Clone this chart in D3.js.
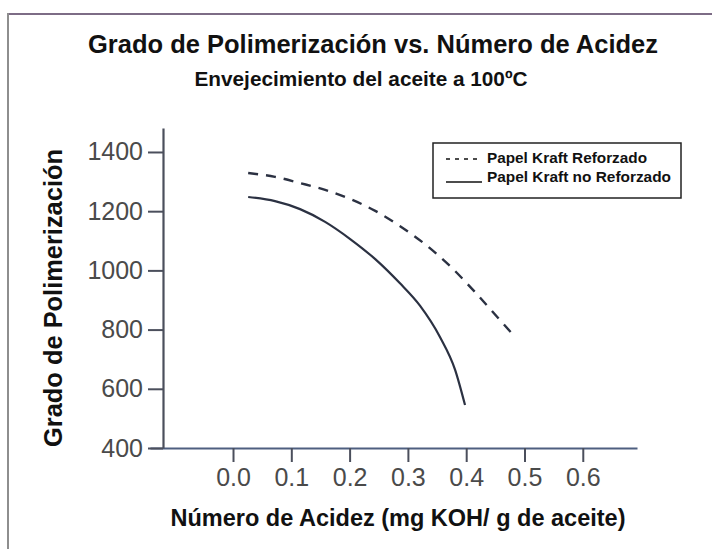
<!DOCTYPE html>
<html>
<head>
<meta charset="utf-8">
<script src="https://cdn.jsdelivr.net/npm/d3@7"></script>
<style>
  html, body { margin: 0; padding: 0; background: #fff; }
  svg { display: block; font-family: "Liberation Sans", Arial, sans-serif; }
</style>
</head>
<body>
<svg id="chart" width="712" height="549"></svg>
<script>
// ---- data ----
const titleText = "Grado de Polimerización vs. Número de Acidez";
const subtitleText = "Envejecimiento del aceite a 100ºC";
const xTitle = "Número de Acidez (mg KOH/ g de aceite)";
const yTitle = "Grado de Polimerización";
const xTicks = [0.0, 0.1, 0.2, 0.3, 0.4, 0.5, 0.6];
const yTicks = [400, 600, 800, 1000, 1200, 1400];
const seriesNames = ["Papel Kraft Reforzado", "Papel Kraft no Reforzado"];
const reforzadoX = [0.026, 0.072, 0.115, 0.158, 0.201, 0.244, 0.286, 0.329, 0.372, 0.415, 0.458, 0.484];
const reforzadoY = [1329, 1316, 1295, 1272, 1241, 1201, 1150, 1089, 1015, 927, 832, 775];
const noReforzadoX = [0.026, 0.072, 0.115, 0.158, 0.201, 0.244, 0.286, 0.321, 0.355, 0.381, 0.398];
const noReforzadoY = [1248, 1234, 1207, 1164, 1106, 1038, 957, 880, 775, 664, 545];

// ---- layout ----
const svg = d3.select("#chart");
const W = 712, H = 549;
const x = d3.scaleLinear().domain([-0.1424, 0.6930]).range([150, 637]);
const y = d3.scaleLinear().domain([400, 1481]).range([448, 128]);
const yAxisX = 163;
const axisColor = "#4b4f5c";
const tickTextColor = "#4a4a4a";
const lineColor = "#2b3142";

// frame
svg.append("line").attr("x1", 8).attr("y1", 14).attr("x2", W).attr("y2", 14)
  .attr("stroke", "#7d6c86").attr("stroke-width", 2);
svg.append("line").attr("x1", 8).attr("y1", 13).attr("x2", 8).attr("y2", H)
  .attr("stroke", "#8e8e8e").attr("stroke-width", 2);

// titles
svg.append("text").attr("x", 373).attr("y", 53).attr("text-anchor", "middle")
  .attr("font-size", 25).attr("font-weight", "bold").attr("fill", "#111")
  .attr("textLength", 570).attr("lengthAdjust", "spacingAndGlyphs").text(titleText);
svg.append("text").attr("x", 361).attr("y", 86).attr("text-anchor", "middle")
  .attr("font-size", 20).attr("font-weight", "bold").attr("fill", "#111")
  .attr("textLength", 333).attr("lengthAdjust", "spacingAndGlyphs").text(subtitleText);

// x axis
const xAxis = d3.axisBottom(x).tickValues(xTicks).tickFormat(d3.format(".1f"))
  .tickSizeOuter(0).tickSizeInner(14).tickPadding(6);
const gx = svg.append("g").attr("transform", "translate(0,448)").call(xAxis);
gx.select(".domain").attr("stroke", "#4e5f80").attr("stroke-width", 2.2);
gx.selectAll(".tick line").attr("stroke", axisColor).attr("stroke-width", 2);
gx.selectAll(".tick text").attr("font-size", 25).attr("fill", tickTextColor)
  .attr("font-family", "Liberation Sans, Arial, sans-serif");

// y axis
const yAxis = d3.axisLeft(y).tickValues(yTicks).tickFormat(d3.format("d"))
  .tickSizeOuter(0).tickSizeInner(15).tickPadding(5);
const gy = svg.append("g").attr("transform", `translate(${yAxisX},0)`).call(yAxis);
gy.select(".domain").attr("stroke", axisColor).attr("stroke-width", 2.2);
gy.selectAll(".tick line").attr("stroke", axisColor).attr("stroke-width", 2);
gy.selectAll(".tick text").attr("font-size", 25).attr("fill", tickTextColor)
  .attr("font-family", "Liberation Sans, Arial, sans-serif");

// axis titles
svg.append("text").attr("x", 398).attr("y", 526).attr("text-anchor", "middle")
  .attr("font-size", 23).attr("font-weight", "bold").attr("fill", "#111")
  .attr("textLength", 455).attr("lengthAdjust", "spacingAndGlyphs").text(xTitle);
svg.append("text").attr("transform", "translate(62,298) rotate(-90)")
  .attr("text-anchor", "middle")
  .attr("font-size", 25).attr("font-weight", "bold").attr("fill", "#111")
  .attr("textLength", 298).attr("lengthAdjust", "spacingAndGlyphs").text(yTitle);

// lines
const line = d3.line().x(d => x(d[0])).y(d => y(d[1])).curve(d3.curveMonotoneX);
const dataR = reforzadoX.map((v, i) => [v, reforzadoY[i]]);
const dataN = noReforzadoX.map((v, i) => [v, noReforzadoY[i]]);
svg.append("path").datum(dataR).attr("d", line).attr("fill", "none")
  .attr("stroke", lineColor).attr("stroke-width", 2.4)
  .attr("stroke-dasharray", "10,8").attr("stroke-linecap", "butt");
svg.append("path").datum(dataN).attr("d", line).attr("fill", "none")
  .attr("stroke", lineColor).attr("stroke-width", 2.2);

// legend
const lg = svg.append("g");
lg.append("rect").attr("x", 433).attr("y", 143).attr("width", 248).attr("height", 55)
  .attr("fill", "#fff").attr("stroke", "#222").attr("stroke-width", 1.5);
lg.append("line").attr("x1", 446).attr("x2", 477).attr("y1", 159).attr("y2", 159)
  .attr("stroke", "#111").attr("stroke-width", 1.6).attr("stroke-dasharray", "4,5");
lg.append("line").attr("x1", 446).attr("x2", 482).attr("y1", 182).attr("y2", 182)
  .attr("stroke", "#111").attr("stroke-width", 1.6);
lg.selectAll("text.leg").data(seriesNames).enter().append("text").attr("class", "leg")
  .attr("x", 487).attr("y", (d, i) => 163 + i * 19)
  .attr("font-size", 15).attr("font-weight", "bold").attr("fill", "#111")
  .attr("textLength", (d, i) => i === 0 ? 160 : 184).attr("lengthAdjust", "spacingAndGlyphs")
  .text(d => d);
</script>
</body>
</html>
